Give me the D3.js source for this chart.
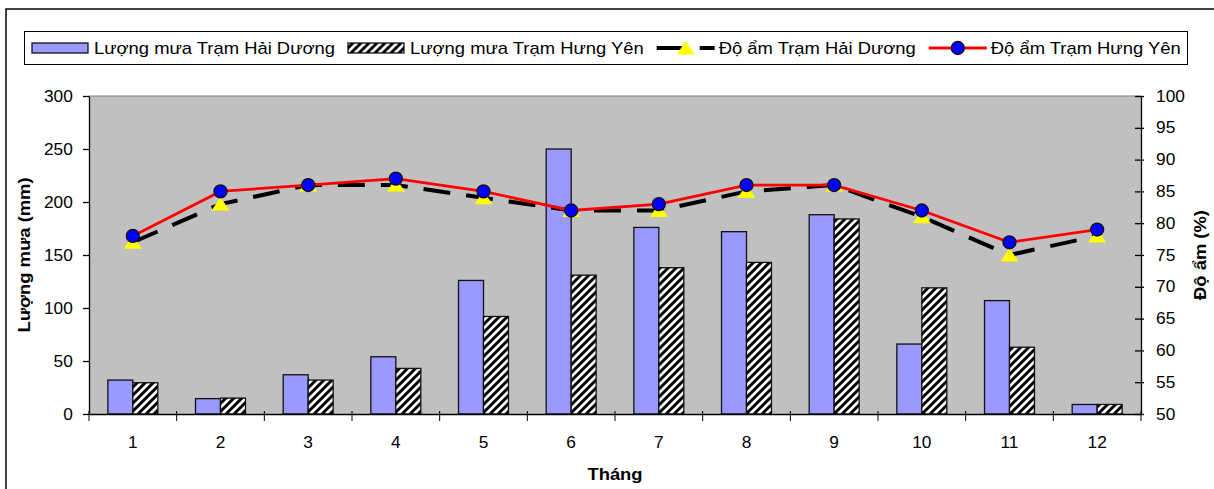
<!DOCTYPE html>
<html>
<head>
<meta charset="utf-8">
<script src="https://cdn.jsdelivr.net/npm/d3@7"></script>
<style>
  html, body { margin: 0; padding: 0; background: #fff; overflow: hidden; }
  text { font-family: "Liberation Sans", Arial, sans-serif; fill: #000; }
</style>
</head>
<body>
<svg id="chart" width="1214" height="489"></svg>
<script>
// Monthly rainfall (mm) and humidity (%) at two stations
const months = ["1", "2", "3", "4", "5", "6", "7", "8", "9", "10", "11", "12"];
const rainHaiDuong = [32, 14.5, 37, 54, 126, 250, 176, 172, 188, 66, 107, 9];
const rainHungYen  = [29.5, 15, 32, 43, 92, 131, 138, 143, 184, 119, 63, 9];
const humidHaiDuong = [77, 83, 86, 86, 84, 82, 82, 85, 86, 81, 75, 78];
const humidHungYen  = [78, 85, 86, 87, 85, 82, 83, 86, 86, 82, 77, 79];
const rainTicks  = [0, 50, 100, 150, 200, 250, 300];
const humidTicks = [50, 55, 60, 65, 70, 75, 80, 85, 90, 95, 100];
const legendLabels = [
  "Lượng mưa Trạm Hải Dương",
  "Lượng mưa Trạm Hưng Yên",
  "Độ ẩm Trạm Hải Dương",
  "Độ ẩm Trạm Hưng Yên"
];
const xTitle = "Tháng";
const yLeftTitle = "Lượng mưa (mm)";
const yRightTitle = "Độ ẩm (%)";

const svg = d3.select("#chart");
const W = 1214, H = 489;
const plot = { left: 89, right: 1141, top: 96, bottom: 414 };
const TEXT_SX = 1.15;   // horizontal stretch of the label font
const NUM_SX = 1.08;

// outer chart frame
svg.append("rect")
  .attr("x", 6).attr("y", 9).attr("width", W + 20).attr("height", H + 20)
  .attr("fill", "#fff").attr("stroke", "#000").attr("stroke-width", 1.5);

// hatch pattern for the second rainfall series
const defs = svg.append("defs");
const pat = defs.append("pattern")
  .attr("id", "hatch").attr("patternUnits", "userSpaceOnUse")
  .attr("width", 8).attr("height", 8);
pat.append("rect").attr("width", 8).attr("height", 8).attr("fill", "#fff");
pat.append("path")
  .attr("d", "M-2,2 L2,-2 M0,8 L8,0 M6,10 L10,6")
  .attr("stroke", "#000").attr("stroke-width", 3);

// scales
const x0 = d3.scaleBand().domain(months).range([plot.left, plot.right]).padding(0);
const groupPad = x0.bandwidth() * 0.215;
const x1 = d3.scaleBand().domain([0, 1]).range([groupPad, x0.bandwidth() - groupPad]).padding(0);
const yRain = d3.scaleLinear().domain([0, 300]).range([plot.bottom, plot.top]);
const yHum = d3.scaleLinear().domain([50, 100]).range([plot.bottom, plot.top]);

// plot area
svg.append("rect")
  .attr("x", plot.left).attr("y", plot.top)
  .attr("width", plot.right - plot.left).attr("height", plot.bottom - plot.top)
  .attr("fill", "#C0C0C0");
svg.append("line")
  .attr("x1", plot.left).attr("x2", plot.right)
  .attr("y1", plot.top).attr("y2", plot.top)
  .attr("stroke", "#808080").attr("stroke-width", 1);

// bars
const rainSeries = [rainHaiDuong, rainHungYen];
const barFill = ["#9999FF", "url(#hatch)"];
rainSeries.forEach((vals, si) => {
  svg.append("g").selectAll("rect").data(vals).join("rect")
    .attr("x", (d, i) => x0(months[i]) + x1(si))
    .attr("y", d => yRain(d))
    .attr("width", x1.bandwidth())
    .attr("height", d => yRain(0) - yRain(d))
    .attr("fill", barFill[si])
    .attr("stroke", "#111").attr("stroke-width", 1.3);
});

const cx = m => x0(m) + x0.bandwidth() / 2;

// humidity lines
const lineHum = d3.line().x((d, i) => cx(months[i])).y(d => yHum(d));
svg.append("path").datum(humidHaiDuong)
  .attr("d", lineHum).attr("fill", "none")
  .attr("stroke", "#000").attr("stroke-width", 4)
  .attr("stroke-dasharray", "27,16");

function triangle(g, x, y) {
  g.append("path").attr("d", "M0,-7 L9,6.5 L-9,6.5 Z")
    .attr("transform", `translate(${x},${y})`)
    .attr("fill", "#FFFF00");
}
const triG = svg.append("g");
humidHaiDuong.forEach((d, i) => triangle(triG, cx(months[i]), yHum(d)));

svg.append("path").datum(humidHungYen)
  .attr("d", lineHum).attr("fill", "none")
  .attr("stroke", "#FF0000").attr("stroke-width", 2.8);
svg.append("g").selectAll("circle").data(humidHungYen).join("circle")
  .attr("cx", (d, i) => cx(months[i])).attr("cy", d => yHum(d))
  .attr("r", 6.5).attr("fill", "#0000FF")
  .attr("stroke", "#111").attr("stroke-width", 1.3);

// axes
function stretch(sel, sx) { sel.attr("transform", `scale(${sx},1)`); }

const axL = svg.append("g").attr("transform", `translate(${plot.left},0)`)
  .call(d3.axisLeft(yRain).tickValues(rainTicks).tickSize(6).tickSizeOuter(0).tickPadding(9));
axL.selectAll("text").style("font-size", "16px").call(stretch, NUM_SX);

const axR = svg.append("g").attr("transform", `translate(${plot.right},0)`)
  .call(d3.axisRight(yHum).tickValues(humidTicks).tickSize(3).tickSizeOuter(0).tickPadding(11));
axR.selectAll(".tick line").attr("x1", -6);
axR.selectAll("text").style("font-size", "16px").call(stretch, NUM_SX);

const axB = svg.append("g").attr("transform", `translate(0,${plot.bottom})`)
  .call(d3.axisBottom(x0).tickSize(0).tickSizeOuter(0).tickPadding(23));
axB.selectAll("text").style("font-size", "16px").call(stretch, NUM_SX);

// category boundary ticks
const bounds = months.map(m => x0(m)).concat([plot.right]);
svg.append("g").selectAll("line").data(bounds).join("line")
  .attr("x1", d => d).attr("x2", d => d)
  .attr("y1", plot.bottom - 3).attr("y2", plot.bottom + 7)
  .attr("stroke", "#000").attr("stroke-width", 1);

[axL, axR, axB].forEach(a => {
  a.selectAll(".domain").attr("stroke", "#000").attr("stroke-width", 1.3);
  a.selectAll(".tick line").attr("stroke", "#000").attr("stroke-width", 1.3);
  a.selectAll("text").attr("fill", "#000").style("font-family", "'Liberation Sans', Arial, sans-serif");
});

// axis titles
function label(txt, x, y, opts = {}) {
  const g = svg.append("g")
    .attr("transform", `translate(${x},${y}) rotate(${opts.rot || 0}) scale(${opts.sx || TEXT_SX},1)`);
  return g.append("text").text(txt)
    .attr("text-anchor", opts.anchor || "middle")
    .style("font-size", (opts.size || 16) + "px")
    .style("font-weight", opts.bold ? "bold" : "normal");
}
label(xTitle, (plot.left + plot.right) / 2, 480, { bold: true });
label(yLeftTitle, 30, (plot.top + plot.bottom) / 2, { bold: true, rot: -90 });
label(yRightTitle, 1206, (plot.top + plot.bottom) / 2, { bold: true, rot: -90 });

// legend
const lg = svg.append("g");
lg.append("rect").attr("x", 24.5).attr("y", 31.5).attr("width", 1163).attr("height", 33)
  .attr("fill", "#fff").attr("stroke", "#000").attr("stroke-width", 1);
const ly = 48;
let lx = 32;
legendLabels.forEach((name, i) => {
  const sw = lg.append("g").attr("transform", `translate(${lx},${ly})`);
  if (i < 2) {
    sw.append("rect").attr("x", 0).attr("y", -5).attr("width", 56).attr("height", 10)
      .attr("fill", barFill[i]).attr("stroke", "#111").attr("stroke-width", 1.3);
  } else if (i === 2) {
    sw.append("line").attr("x1", 0).attr("x2", 58).attr("y1", 0).attr("y2", 0)
      .attr("stroke", "#000").attr("stroke-width", 4).attr("stroke-dasharray", "27,16");
    triangle(sw, 29, 0);
  } else {
    sw.append("line").attr("x1", 0).attr("x2", 58).attr("y1", 0).attr("y2", 0)
      .attr("stroke", "#FF0000").attr("stroke-width", 2.8);
    sw.append("circle").attr("cx", 29).attr("cy", 0).attr("r", 6.5)
      .attr("fill", "#0000FF").attr("stroke", "#111").attr("stroke-width", 1.3);
  }
  const t = label(name, lx + 62, ly + 6, { anchor: "start" });
  const w = t.node().getComputedTextLength() * TEXT_SX;
  lx += 62 + w + 13;
});
</script>
</body>
</html>
